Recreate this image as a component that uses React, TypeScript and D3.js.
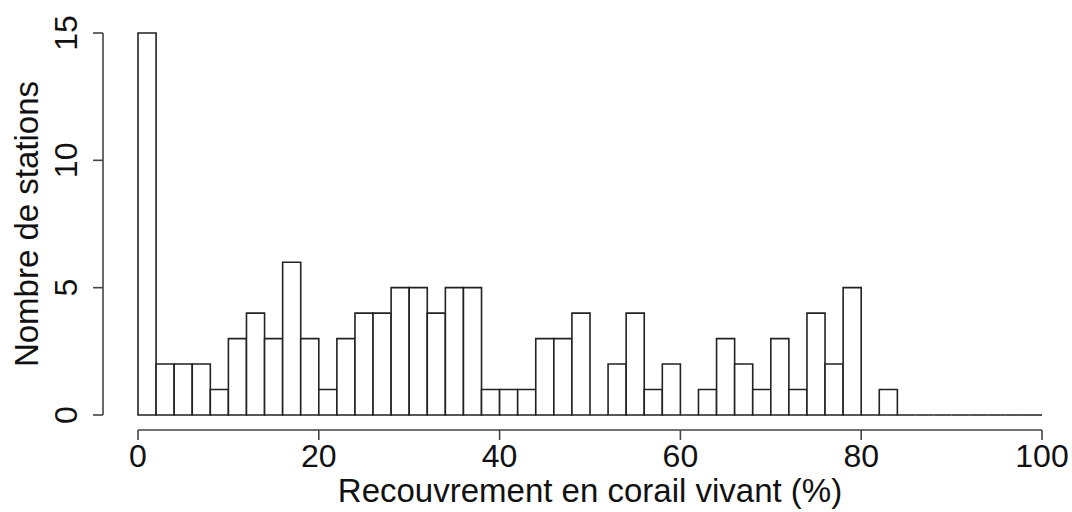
import React from "react";
import * as d3 from "d3";

const binEdges: number[] = d3.range(0, 102, 2);
const counts: number[] = [
  15, 2, 2, 2, 1, 3, 4, 3, 6, 3,
  1, 3, 4, 4, 5, 5, 4, 5, 5, 1,
  1, 1, 3, 3, 4, 0, 2, 4, 1, 2,
  0, 1, 3, 2, 1, 3, 1, 4, 2, 5,
  0, 1, 0, 0, 0, 0, 0, 0, 0, 0,
];
const xTicks: number[] = [0, 20, 40, 60, 80, 100];
const yTicks: number[] = [0, 5, 10, 15];
const xLabel = "Recouvrement en corail vivant (%)";
const yLabel = "Nombre de stations";

export default function App() {
  const W = 1072, H = 512;
  const x = d3.scaleLinear().domain([0, 100]).range([138, 1042]);
  const y = d3.scaleLinear().domain([0, 15]).range([415, 33]);
  const font = "Liberation Sans, Arial, sans-serif";
  const fs = 32;
  const axisColor = "#444";
  const barStroke = "#222";
  const xAxisY = 430;
  const yAxisX = 103;

  const barPath = (i: number) => {
    const p = d3.path();
    const x0 = x(binEdges[i]);
    const x1 = x(binEdges[i + 1]);
    const y0 = y(0);
    const y1 = y(counts[i]);
    p.moveTo(x0, y0);
    p.lineTo(x0, y1);
    p.lineTo(x1, y1);
    p.lineTo(x1, y0);
    p.closePath();
    return p.toString();
  };

  return (
    <svg width={W} height={H} style={{ position: "absolute", left: 0, top: 0, background: "#fff" }}>
      <rect x={0} y={0} width={W} height={H} fill="#fff" />
      {counts.map((c, i) => (
        <path key={i} d={barPath(i)} fill="#fff" stroke={barStroke} strokeWidth={1.6} />
      ))}
      {/* x axis */}
      <line x1={x(0)} x2={x(100)} y1={xAxisY} y2={xAxisY} stroke={axisColor} strokeWidth={1.6} />
      {xTicks.map((t) => (
        <g key={t}>
          <line x1={x(t)} x2={x(t)} y1={xAxisY} y2={xAxisY + 10} stroke={axisColor} strokeWidth={1.6} />
          <text x={x(t)} y={467} textAnchor="middle" fontFamily={font} fontSize={fs} fill="#111">
            {t}
          </text>
        </g>
      ))}
      <text x={(x(0) + x(100)) / 2} y={502} textAnchor="middle" fontFamily={font} fontSize={fs + 1} fill="#111">
        {xLabel}
      </text>
      {/* y axis */}
      <line x1={yAxisX} x2={yAxisX} y1={y(0)} y2={y(15)} stroke={axisColor} strokeWidth={1.6} />
      {yTicks.map((t) => (
        <g key={t}>
          <line x1={yAxisX - 10} x2={yAxisX} y1={y(t)} y2={y(t)} stroke={axisColor} strokeWidth={1.6} />
          <text
            transform={`translate(77,${y(t)}) rotate(-90)`}
            textAnchor="middle"
            fontFamily={font}
            fontSize={fs}
            fill="#111"
          >
            {t}
          </text>
        </g>
      ))}
      <text
        transform={`translate(38,${(y(0) + y(15)) / 2}) rotate(-90)`}
        textAnchor="middle"
        fontFamily={font}
        fontSize={fs + 1}
        fill="#111"
      >
        {yLabel}
      </text>
    </svg>
  );
}
